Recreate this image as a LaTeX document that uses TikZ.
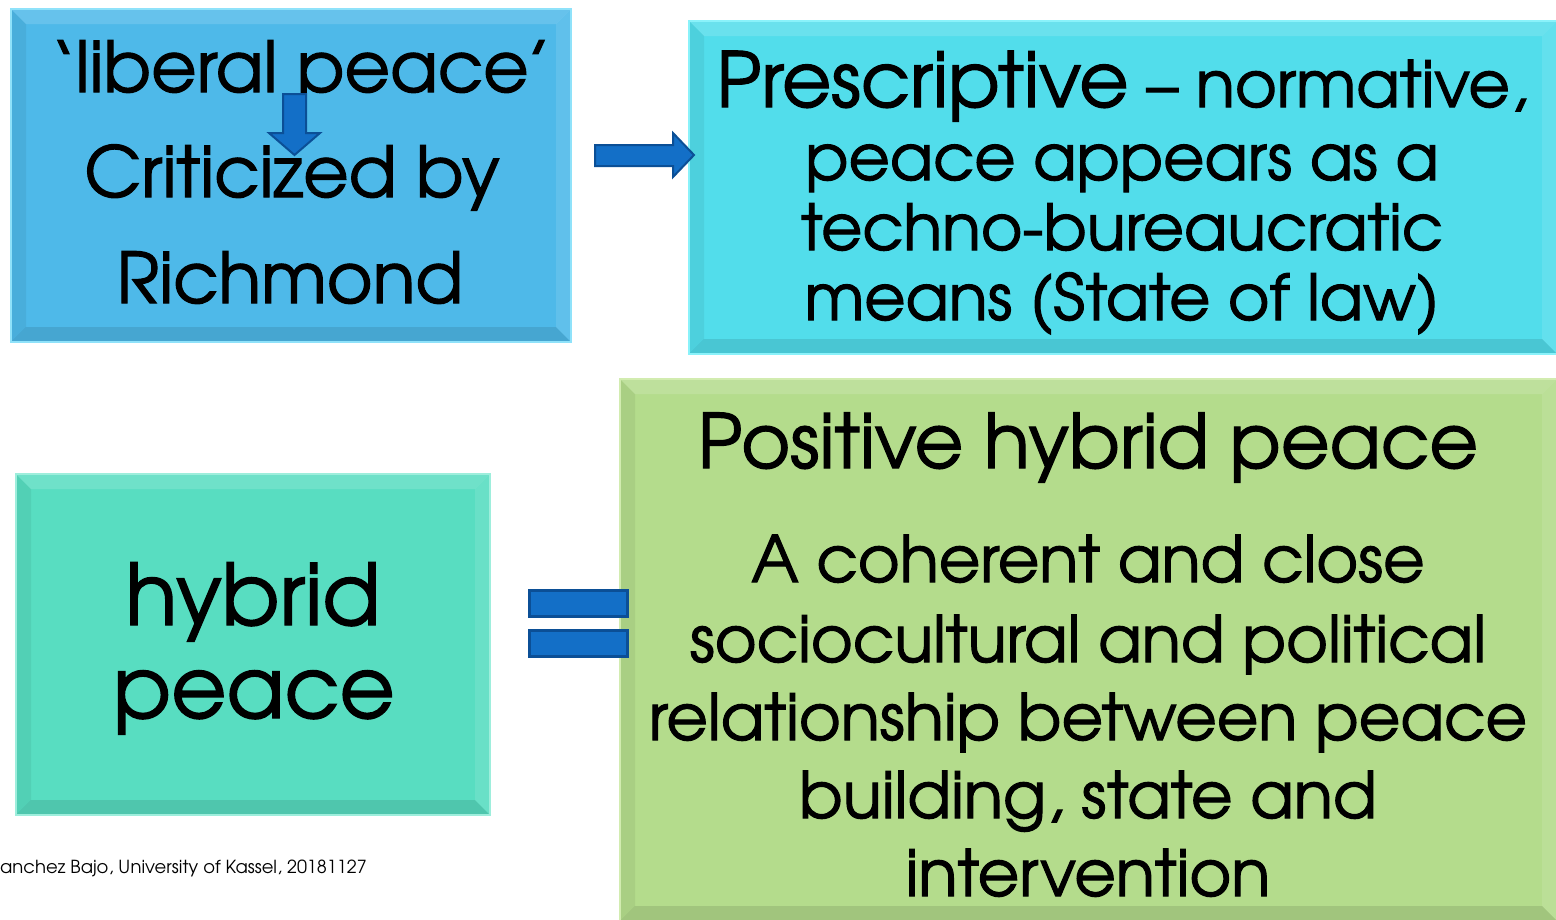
\documentclass[tikz,border=0pt]{standalone}
\usepackage{fontspec}
\setmainfont{TeX Gyre Adventor}
\newfontfamily\heavy{TeX Gyre Adventor}[FakeBold=1.6]
\definecolor{cA}{HTML}{4EB9E9}
\definecolor{cB}{HTML}{52DDEB}
\definecolor{cC}{HTML}{58DDC1}
\definecolor{cD}{HTML}{B4DC8C}
\definecolor{eA}{HTML}{8FE2FA}
\definecolor{eB}{HTML}{8AF2FA}
\definecolor{eC}{HTML}{9EEEDC}
\definecolor{eD}{HTML}{D2ECB0}
\definecolor{arrfill}{HTML}{136FC7}
\definecolor{arredge}{HTML}{0B4F96}
\tikzset{
  bevelbox/.style={rectangle, inner sep=0pt, outer sep=0pt, anchor=north west, line width=2pt,
    path picture={
      \fill[white,opacity=0.14] (path picture bounding box.north west) -- (path picture bounding box.north east)
        -- ++(-15pt,-15pt) -- ([shift={(15pt,-15pt)}]path picture bounding box.north west) -- cycle;
      \fill[white,opacity=0.10] (path picture bounding box.north east) -- (path picture bounding box.south east)
        -- ++(-15pt,15pt) -- ([shift={(-15pt,-15pt)}]path picture bounding box.north east) -- cycle;
      \fill[black,opacity=0.10] (path picture bounding box.south east) -- (path picture bounding box.south west)
        -- ++(15pt,15pt) -- ([shift={(-15pt,15pt)}]path picture bounding box.south east) -- cycle;
      \fill[black,opacity=0.06] (path picture bounding box.south west) -- (path picture bounding box.north west)
        -- ++(15pt,-15pt) -- ([shift={(15pt,15pt)}]path picture bounding box.south west) -- cycle;
    }},
  txt/.style={anchor=base, inner sep=0pt, text=black},
  blockarrow/.style={fill=arrfill, draw=arredge, line width=2pt, line join=miter},
}
\begin{document}
\begin{tikzpicture}[x=1pt,y=-1pt]
\useasboundingbox (0,0) rectangle (1556,919);
% boxes
\node[bevelbox, fill=cA, draw=eA, minimum width=560pt, minimum height=333pt] (A) at (11,9) {};
\node[bevelbox, fill=cB, draw=eB, minimum width=868pt, minimum height=333pt] (B) at (689,21) {};
\node[bevelbox, fill=cC, draw=eC, minimum width=474pt, minimum height=341pt] (C) at (16,474) {};
\node[bevelbox, fill=cD, draw=eD, minimum width=937pt, minimum height=542pt] (D) at (620,379) {};
% texts A
\node[txt, font=\heavy\fontsize{70}{80}\selectfont] (a1) at (301,92) {‘liberal peace’};
\node[txt, font=\heavy\fontsize{70}{80}\selectfont] (a2) at (292,197) {Criticized by};
\node[txt, font=\heavy\fontsize{70}{80}\selectfont] (a3) at (290,303) {Richmond};
% texts B
\node[txt, font=\heavy\fontsize{64}{70}\selectfont] (b1) at (1122,107) {{\fontsize{76}{70}\selectfont Prescriptive} – normative,};
\node[txt, font=\heavy\fontsize{63.5}{70}\selectfont] (b2) at (1122,180) {peace appears as a};
\node[txt, font=\heavy\fontsize{63.5}{70}\selectfont] (b3) at (1122,250) {techno-bureaucratic};
\node[txt, font=\heavy\fontsize{63.5}{70}\selectfont] (b4) at (1122,320) {means (State of law)};
% texts C
\node[txt, font=\heavy\fontsize{85}{90}\selectfont] (c1) at (253,625) {hybrid};
\node[txt, font=\heavy\fontsize{85}{90}\selectfont] (c2) at (254,718) {peace};
% texts D
\node[txt, font=\heavy\fontsize{75}{80}\selectfont] (d1) at (1088,468) {Positive hybrid peace};
\node[txt, font=\heavy\fontsize{64}{70}\selectfont] (d2) at (1088,582) {A coherent and close};
\node[txt, font=\heavy\fontsize{64}{70}\selectfont] (d3) at (1088,662) {sociocultural and political};
\node[txt, font=\heavy\fontsize{64}{70}\selectfont] (d4) at (1088,740) {relationship between peace};
\node[txt, font=\heavy\fontsize{64}{70}\selectfont] (d5) at (1088,818) {building, state and};
\node[txt, font=\heavy\fontsize{64}{70}\selectfont] (d6) at (1088,896) {intervention};
% footer
\node[txt, anchor=base west, font=\fontsize{18}{20}\selectfont] (foot) at (0,873) {anchez Bajo, University of Kassel, 20181127};
% down arrow in A
\draw[blockarrow] (283,94) -- (306,94) -- (306,133) -- (320,133) -- (294.5,155) -- (269,133) -- (283,133) -- cycle;
% right arrow A -> B
\draw[blockarrow] (595,145) -- (673,145) -- (673,133) -- (694,155) -- (673,177) -- (673,166) -- (595,166) -- cycle;
% equals sign C = D
\draw[blockarrow, line width=3pt] (529,590) rectangle (627,616);
\draw[blockarrow, line width=3pt] (529,630) rectangle (627,656);
\end{tikzpicture}
\end{document}
